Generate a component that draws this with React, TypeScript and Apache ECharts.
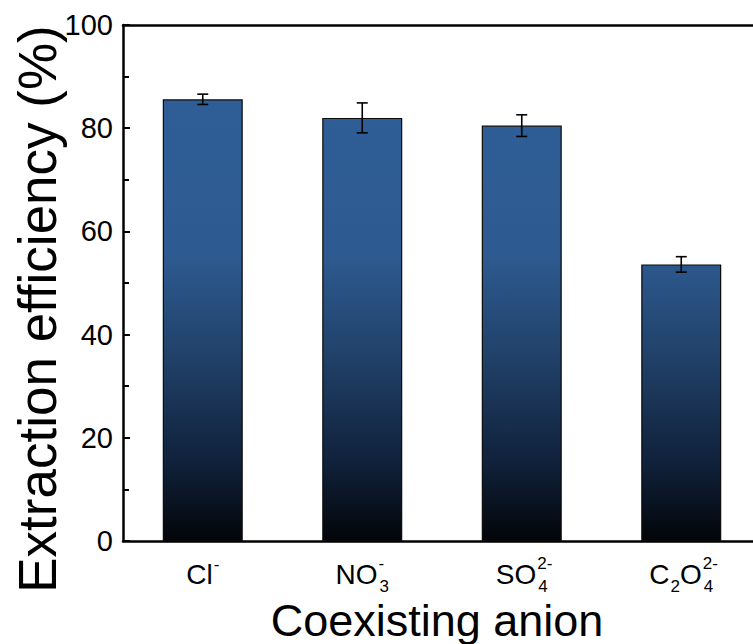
import React, { useEffect, useRef } from "react";
import * as echarts from "echarts";

// Extraction efficiency of the metal under different coexisting anions
const anions = ["Cl", "NO3", "SO4", "C2O4"];
const efficiency = [85.6, 82.0, 80.5, 53.6];
const errorBars = [1.0, 2.9, 2.1, 1.5];
const yTicks = [0, 20, 40, 60, 80, 100];

// Rich-text markup for the chemical formulae (sub/superscripts);
// "supz" has zero advance so the following subscript sits right under it
const anionLabels: Record<string, string> = {
  Cl: "{b|Cl}{sup|-}",
  NO3: "{b|NO}{supz|-}{sub|3}",
  SO4: "{b|SO}{supz|2-}{sub|4}",
  C2O4: "{b|C}{sub|2}{b|O}{supz|2-}{sub|4}",
};

const FONT = "'Liberation Sans', Arial, Helvetica, sans-serif";

export default function App() {
  const ref = useRef<HTMLDivElement>(null);

  useEffect(() => {
    if (!ref.current) return;
    const chart = echarts.init(ref.current, undefined, { renderer: "svg" });

    const barFill = new echarts.graphic.LinearGradient(
      0,
      25,
      0,
      541,
      [
        { offset: 0, color: "#30609a" },
        { offset: 0.45, color: "#2d5a90" },
        { offset: 0.65, color: "#204067" },
        { offset: 0.85, color: "#10213a" },
        { offset: 1, color: "#020509" },
      ],
      true
    );

    const errData = anions.map((_, i) => [
      i,
      efficiency[i] - errorBars[i],
      efficiency[i] + errorBars[i],
    ]);

    const axisLineStyle = { color: "#000", width: 2.5 };
    const small = { fontSize: 17, fontFamily: FONT, color: "#000", lineHeight: 17, align: "left" };

    chart.setOption({
      animation: false,
      backgroundColor: "#fff",
      grid: {
        left: 123,
        top: 25,
        bottom: 103,
        right: -8,
        containLabel: false,
        outerBoundsMode: "none",
      },
      graphic: [
        {
          type: "text",
          x: 37,
          y: 309,
          rotation: Math.PI / 2,
          style: {
            text: "Extraction efficiency (%)",
            font: `53px ${FONT}`,
            fill: "#000",
            textAlign: "center",
            textVerticalAlign: "middle",
          },
        },
        {
          type: "text",
          x: 437,
          y: 620,
          style: {
            text: "Coexisting anion",
            font: `45px ${FONT}`,
            fill: "#000",
            textAlign: "center",
            textVerticalAlign: "middle",
          },
        },
      ],
      xAxis: [
        {
          type: "category",
          data: anions,
          position: "bottom",
          axisLine: { lineStyle: axisLineStyle },
          axisTick: { show: false },
          axisLabel: {
            interval: 0,
            margin: 12,
            color: "#000",
            formatter: (v: string) => anionLabels[v] ?? v,
            rich: {
              b: { fontSize: 28, fontFamily: FONT, color: "#000", lineHeight: 42, verticalAlign: "middle", align: "left" },
              sup: { ...small, verticalAlign: "top", padding: [3, 0, 0, 1] },
              supz: { ...small, verticalAlign: "top", width: 0, padding: [2, 0, 0, 1] },
              sub: { ...small, verticalAlign: "bottom", padding: [0, 0, 0, 1] },
            },
          },
        },
        {
          type: "category",
          data: anions,
          position: "top",
          axisLine: { lineStyle: axisLineStyle },
          axisTick: { show: false },
          axisLabel: { show: false },
        },
      ],
      yAxis: [
        {
          type: "value",
          min: yTicks[0],
          max: yTicks[yTicks.length - 1],
          interval: 20,
          axisLine: { show: true, lineStyle: axisLineStyle },
          axisTick: { show: true, inside: true, length: 7, lineStyle: { color: "#000", width: 2 } },
          minorTick: { show: true, splitNumber: 2, length: 6, lineStyle: { color: "#000", width: 2 } },
          splitLine: { show: false },
          axisLabel: {
            margin: 10,
            fontSize: 29,
            fontFamily: FONT,
            color: "#000",
          },
        },
      ],
      series: [
        {
          type: "bar",
          data: efficiency,
          barWidth: 80,
          itemStyle: { color: barFill, borderColor: "#0a0a0a", borderWidth: 1.2 },
          z: 2,
        },
        {
          type: "custom",
          data: errData,
          z: 5,
          renderItem: (params: any, api: any) => {
            const x = api.value(0);
            const lo = api.coord([x, api.value(1)]);
            const hi = api.coord([x, api.value(2)]);
            const half = 5.5;
            const style = { stroke: "#000", lineWidth: 1.6 };
            return {
              type: "group",
              children: [
                { type: "line", shape: { x1: lo[0], y1: lo[1], x2: hi[0], y2: hi[1] }, style },
                { type: "line", shape: { x1: hi[0] - half, y1: hi[1], x2: hi[0] + half, y2: hi[1] }, style },
                { type: "line", shape: { x1: lo[0] - half, y1: lo[1], x2: lo[0] + half, y2: lo[1] }, style },
              ],
            };
          },
        },
      ],
    });

    return () => chart.dispose();
  }, []);

  return (
    <div
      ref={ref}
      style={{ position: "absolute", left: 0, top: 0, width: 753, height: 644 }}
    />
  );
}
